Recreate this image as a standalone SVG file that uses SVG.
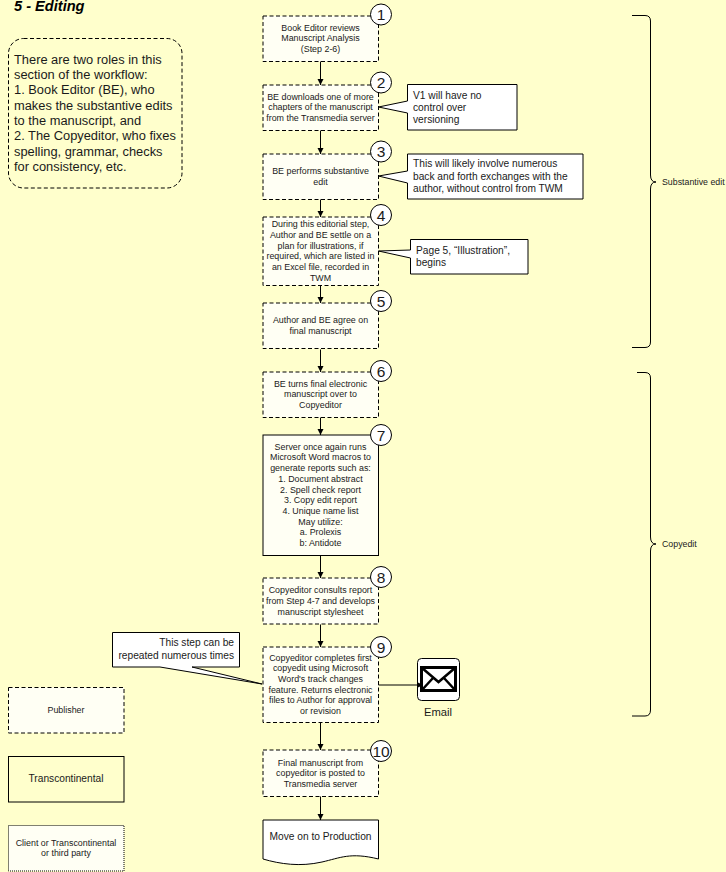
<svg xmlns="http://www.w3.org/2000/svg" width="726" height="872" viewBox="0 0 726 872">
<style>
text{font-family:"Liberation Sans",Arial,sans-serif;fill:#1a1a1a}
.b{fill:#fffff4;stroke:#000;stroke-width:1;stroke-dasharray:4 2.5}
.s{fill:#fff;stroke:#000;stroke-width:1}
.t{font-size:8.900px;text-anchor:middle}
.n{font-size:15.500px;text-anchor:middle}
.c{fill:#fff;stroke:#000;stroke-width:1}
.o{font-size:10.200px}
.l{fill:none;stroke:#000;stroke-width:1}
.note{font-size:12.850px}
</style>
<defs>
<marker id="a" markerWidth="7" markerHeight="7" refX="6" refY="3" orient="auto" markerUnits="userSpaceOnUse"><path d="M0 0L6 3L0 6z" fill="#000"/></marker>
</defs>
<rect width="726" height="872" fill="#ffffcc"/>
<text x="14" y="11" font-size="14.600" font-weight="bold" font-style="italic" style="fill:#000">5 - Editing</text>
<g id="note">
<rect x="8.500" y="38.500" width="173.500" height="149.500" rx="15" fill="none" stroke="#000" stroke-dasharray="4 2.500"/>
<text class="note" x="14" y="64">There are two roles in this</text>
<text class="note" x="14" y="79">section of the workflow:</text>
<text class="note" x="14" y="94">1. Book Editor (BE), who</text>
<text class="note" x="14" y="110">makes the substantive edits</text>
<text class="note" x="14" y="125">to the manuscript, and</text>
<text class="note" x="14" y="140">2. The Copyeditor, who fixes</text>
<text class="note" x="14" y="156">spelling, grammar, checks</text>
<text class="note" x="14" y="171">for consistency, etc.</text>
</g>
<g id="step1"><rect class="b" x="263" y="16" width="115.500" height="45.500"/><text class="t" x="320.500" y="31">Book Editor reviews</text><text class="t" x="320.500" y="41">Manuscript Analysis</text><text class="t" x="320.500" y="52">(Step 2-6)</text><circle class="c" cx="381" cy="14.500" r="10.500"/><text class="n" x="381" y="20">1</text></g>
<g id="step2"><rect class="b" x="263" y="85" width="115.500" height="45.500"/><text class="t" x="320.500" y="100">BE downloads one of more</text><text class="t" x="320.500" y="110">chapters of the manuscript</text><text class="t" x="320.500" y="121">from the Transmedia server</text><circle class="c" cx="381" cy="82.500" r="10.500"/><text class="n" x="381" y="88">2</text></g>
<g id="step3"><rect class="b" x="263" y="154" width="115.500" height="45.500"/><text class="t" x="320.500" y="174">BE performs substantive</text><text class="t" x="320.500" y="185">edit</text><circle class="c" cx="381" cy="151.500" r="10.500"/><text class="n" x="381" y="157">3</text></g>
<g id="step4"><rect class="b" x="263" y="217" width="115.500" height="68.500"/><text class="t" x="320.500" y="227">During this editorial step,</text><text class="t" x="320.500" y="238">Author and BE settle on a</text><text class="t" x="320.500" y="249">plan for illustrations, if</text><text class="t" x="320.500" y="259">required, which are listed in</text><text class="t" x="320.500" y="270">an Excel file, recorded in</text><text class="t" x="320.500" y="281">TWM</text><circle class="c" cx="381" cy="215" r="10.500"/><text class="n" x="381" y="220.500">4</text></g>
<g id="step5"><rect class="b" x="263" y="303" width="115.500" height="45.500"/><text class="t" x="320.500" y="323">Author and BE agree on</text><text class="t" x="320.500" y="334">final manuscript</text><circle class="c" cx="381" cy="301" r="10.500"/><text class="n" x="381" y="306.500">5</text></g>
<g id="step6"><rect class="b" x="263" y="372" width="115.500" height="45.500"/><text class="t" x="320.500" y="387">BE turns final electronic</text><text class="t" x="320.500" y="397">manuscript over to</text><text class="t" x="320.500" y="408">Copyeditor</text><circle class="c" cx="381" cy="371" r="10.500"/><text class="n" x="381" y="376.500">6</text></g>
<g id="step7"><rect class="b" style="stroke-dasharray:none" x="263" y="435" width="115.500" height="120.500"/><text class="t" x="320.500" y="450">Server once again runs</text><text class="t" x="320.500" y="460">Microsoft Word macros to</text><text class="t" x="320.500" y="471">generate reports such as:</text><text class="t" x="320.500" y="482">1. Document abstract</text><text class="t" x="320.500" y="493">2. Spell check report</text><text class="t" x="320.500" y="503">3. Copy edit report</text><text class="t" x="320.500" y="514">4. Unique name list</text><text class="t" x="320.500" y="525">May utilize:</text><text class="t" x="320.500" y="535">a. Prolexis</text><text class="t" x="320.500" y="546">b: Antidote</text><circle class="c" cx="381" cy="435" r="10.500"/><text class="n" x="381" y="440.500">7</text></g>
<g id="step8"><rect class="b" x="263" y="578" width="115.500" height="46"/><text class="t" x="320.500" y="593">Copyeditor consults report</text><text class="t" x="320.500" y="604">from Step 4-7 and develops</text><text class="t" x="320.500" y="615">manuscript stylesheet</text><circle class="c" cx="381" cy="577" r="10.500"/><text class="n" x="381" y="582.500">8</text></g>
<g id="step9"><rect class="b" x="263" y="647" width="115.500" height="75.500"/><text class="t" x="320.500" y="661">Copyeditor completes first</text><text class="t" x="320.500" y="671">copyedit using Microsoft</text><text class="t" x="320.500" y="682">Word's track changes</text><text class="t" x="320.500" y="693">feature. Returns electronic</text><text class="t" x="320.500" y="703">files to Author for approval</text><text class="t" x="320.500" y="714">or revision</text><circle class="c" cx="381" cy="647" r="10.500"/><text class="n" x="381" y="652.500">9</text></g>
<g id="step10"><rect class="b" x="263" y="750" width="115.500" height="46.500"/><text class="t" x="320.500" y="766">Final manuscript from</text><text class="t" x="320.500" y="776">copyeditor is posted to</text><text class="t" x="320.500" y="787">Transmedia server</text><circle class="c" cx="381" cy="751" r="10.500"/><text class="n" x="381" y="756.500">10</text></g>
<g id="production"><path class="s" d="M263 820H378.500V859C350 852 340 858 322 862C300 867 280 864 263 859Z"/><text x="320.500" y="840" text-anchor="middle" font-size="10.200">Move on to Production</text></g>
<g id="callout1"><path class="s" d="M407.500 84.500H517V130H407.500V113L378.500 107L407.500 101Z"/><text class="o" x="413" y="99">V1 will have no</text><text class="o" x="413" y="111">control over</text><text class="o" x="413" y="123">versioning</text></g>
<g id="callout2"><path class="s" d="M407.500 154H583V199H407.500V183L378.500 176L407.500 171Z"/><text class="o" x="413" y="167">This will likely involve numerous</text><text class="o" x="413" y="180">back and forth exchanges with the</text><text class="o" x="413" y="192">author, without control from TWM</text></g>
<g id="callout3"><path class="s" d="M410.500 239.500H528V274H410.500V258L378.500 251L410.500 250Z"/><text class="o" x="416" y="254">Page 5, “Illustration”,</text><text class="o" x="416" y="266">begins</text></g>
<g id="callout4"><path class="s" d="M112.500 632.500H239.500V667H192L262 684L160 667H112.500Z"/><text class="o" x="234" y="646" text-anchor="end">This step can be</text><text class="o" x="234" y="659" text-anchor="end">repeated numerous times</text></g>
<g id="email"><rect x="417.500" y="658.500" width="42" height="42" rx="4" fill="#fff" stroke="#000"/><rect x="421.500" y="667.500" width="34" height="23" fill="#fff" stroke="#000" stroke-width="3"/><path d="M421.500 667.500L438.500 682L455.500 667.500M421.500 690.500L433 678M455.500 690.500L444 678" fill="none" stroke="#000" stroke-width="2.500"/><text x="438" y="716" text-anchor="middle" font-size="11.200">Email</text></g>
<g id="connectors">
<path class="l" marker-end="url(#a)" d="M320.500 61.500V85"/>
<path class="l" marker-end="url(#a)" d="M320.500 130.500V154"/>
<path class="l" marker-end="url(#a)" d="M320.500 199.500V217"/>
<path class="l" marker-end="url(#a)" d="M320.500 285.500V303"/>
<path class="l" marker-end="url(#a)" d="M320.500 349.500V372"/>
<path class="l" marker-end="url(#a)" d="M320.500 417.500V435"/>
<path class="l" marker-end="url(#a)" d="M320.500 555.500V578"/>
<path class="l" marker-end="url(#a)" d="M320.500 624.500V647"/>
<path class="l" marker-end="url(#a)" d="M320.500 722.500V750"/>
<path class="l" marker-end="url(#a)" d="M320.500 796.500V820"/>
<path class="l" marker-end="url(#a)" d="M378.500 685H423"/>
</g>
<g id="brace1"><path class="l" d="M632 15.500H645Q650.500 15.500 650.500 21V175Q650.500 182 656 182Q650.500 182 650.500 189V342Q650.500 347.500 645 347.500H632"/><text x="662" y="185" font-size="8.800">Substantive edit</text></g>
<g id="brace2"><path class="l" d="M637 372.500H645Q650.500 372.500 650.500 378V537Q650.500 544 656 544Q650.500 544 650.500 551V710Q650.500 716 645 716H632"/><text x="662" y="547" font-size="8.800">Copyedit</text></g>
<g id="legend1"><rect class="b" x="8.500" y="687.500" width="115.500" height="45.500"/><text class="t" x="66" y="713">Publisher</text></g>
<g id="legend2"><rect x="8.500" y="756.500" width="115.500" height="45.500" fill="#ffffcc" stroke="#000"/><text x="66" y="782" text-anchor="middle" font-size="10.200">Transcontinental</text></g>
<g id="legend3"><rect x="8.500" y="825.500" width="115.500" height="45.500" fill="#fffff4" stroke="#000" stroke-dasharray="1 1"/><text class="t" x="66" y="846">Client or Transcontinental</text><text class="t" x="66" y="856">or third party</text></g>
</svg>
